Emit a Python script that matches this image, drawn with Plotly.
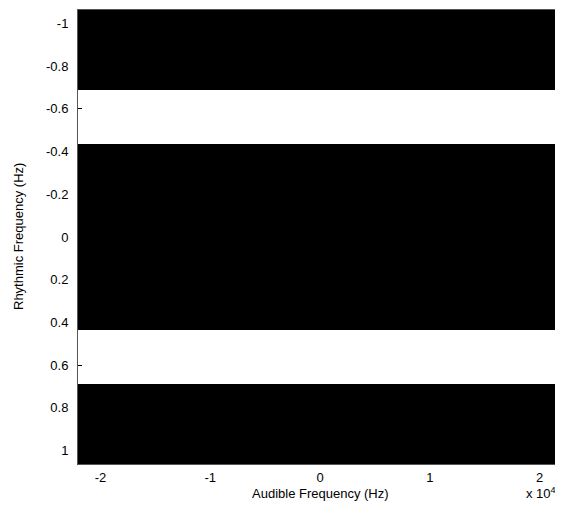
import plotly.graph_objects as go

# Data
rhythmic_freq = [-1.0, -0.875, -0.75, -0.625, -0.5, -0.375, -0.25, -0.125, 0.0,
                 0.125, 0.25, 0.375, 0.5, 0.625, 0.75, 0.875, 1.0]
audible_edges = [-22050, 22050]
intensity = [0, 0, 0, 1, 1, 0, 0, 0, 0, 0, 0, 0, 1, 1, 0, 0, 0]

x_tickvals = [-20000, -10000, 0, 10000, 20000]
x_ticktext = ["-2", "-1", "0", "1", "2"]
y_tickvals = [-1, -0.8, -0.6, -0.4, -0.2, 0, 0.2, 0.4, 0.6, 0.8, 1]
y_ticktext = ["-1", "-0.8", "-0.6", "-0.4", "-0.2", "0", "0.2", "0.4", "0.6", "0.8", "1"]

z = [[v] for v in intensity]

fig = go.Figure(go.Heatmap(
    x=audible_edges, y=rhythmic_freq, z=z,
    colorscale=[[0, "black"], [1, "white"]], zmin=0, zmax=1,
    showscale=False, hoverinfo="skip"
))

font = dict(family="Liberation Sans, Arial, sans-serif", size=13, color="black")

# page body has an 8px margin, so the figure is shrunk and shifted accordingly
fig.update_layout(
    width=555, height=507,
    margin=dict(l=70, r=1, t=2, b=51),
    paper_bgcolor="white", plot_bgcolor="white",
    font=font,
    showlegend=False,
    annotations=[
        dict(text="Audible Frequency (Hz)", x=0.5, y=0, xref="paper", yref="paper",
             yshift=-29, showarrow=False, xanchor="center", yanchor="middle", font=font),
        dict(text="x 10<sup>4</sup>", x=1.0, y=0, xref="paper", yref="paper",
             xshift=-4, yshift=-29, showarrow=False, xanchor="right", yanchor="middle", font=font),
        dict(text="Rhythmic Frequency (Hz)", x=0, y=0.5, xref="paper", yref="paper",
             xshift=-60, textangle=-90, showarrow=False, xanchor="center", yanchor="middle",
             font=font),
    ],
)
fig.update_xaxes(
    range=[-22050, 22050], tickvals=x_tickvals, ticktext=x_ticktext,
    ticks="inside", ticklen=4, tickcolor="black",
    showline=True, linecolor="#555", linewidth=1, mirror="ticks",
    showgrid=False, zeroline=False, tickfont=font, ticklabelstandoff=1,
)
fig.update_yaxes(
    range=[1.0625, -1.0625], tickvals=y_tickvals, ticktext=y_ticktext,
    ticks="inside", ticklen=4, tickcolor="black",
    showline=True, linecolor="#555", linewidth=1, mirror="ticks",
    showgrid=False, zeroline=False, tickfont=font, ticklabelstandoff=6,
)

fig.write_html("out.html")
